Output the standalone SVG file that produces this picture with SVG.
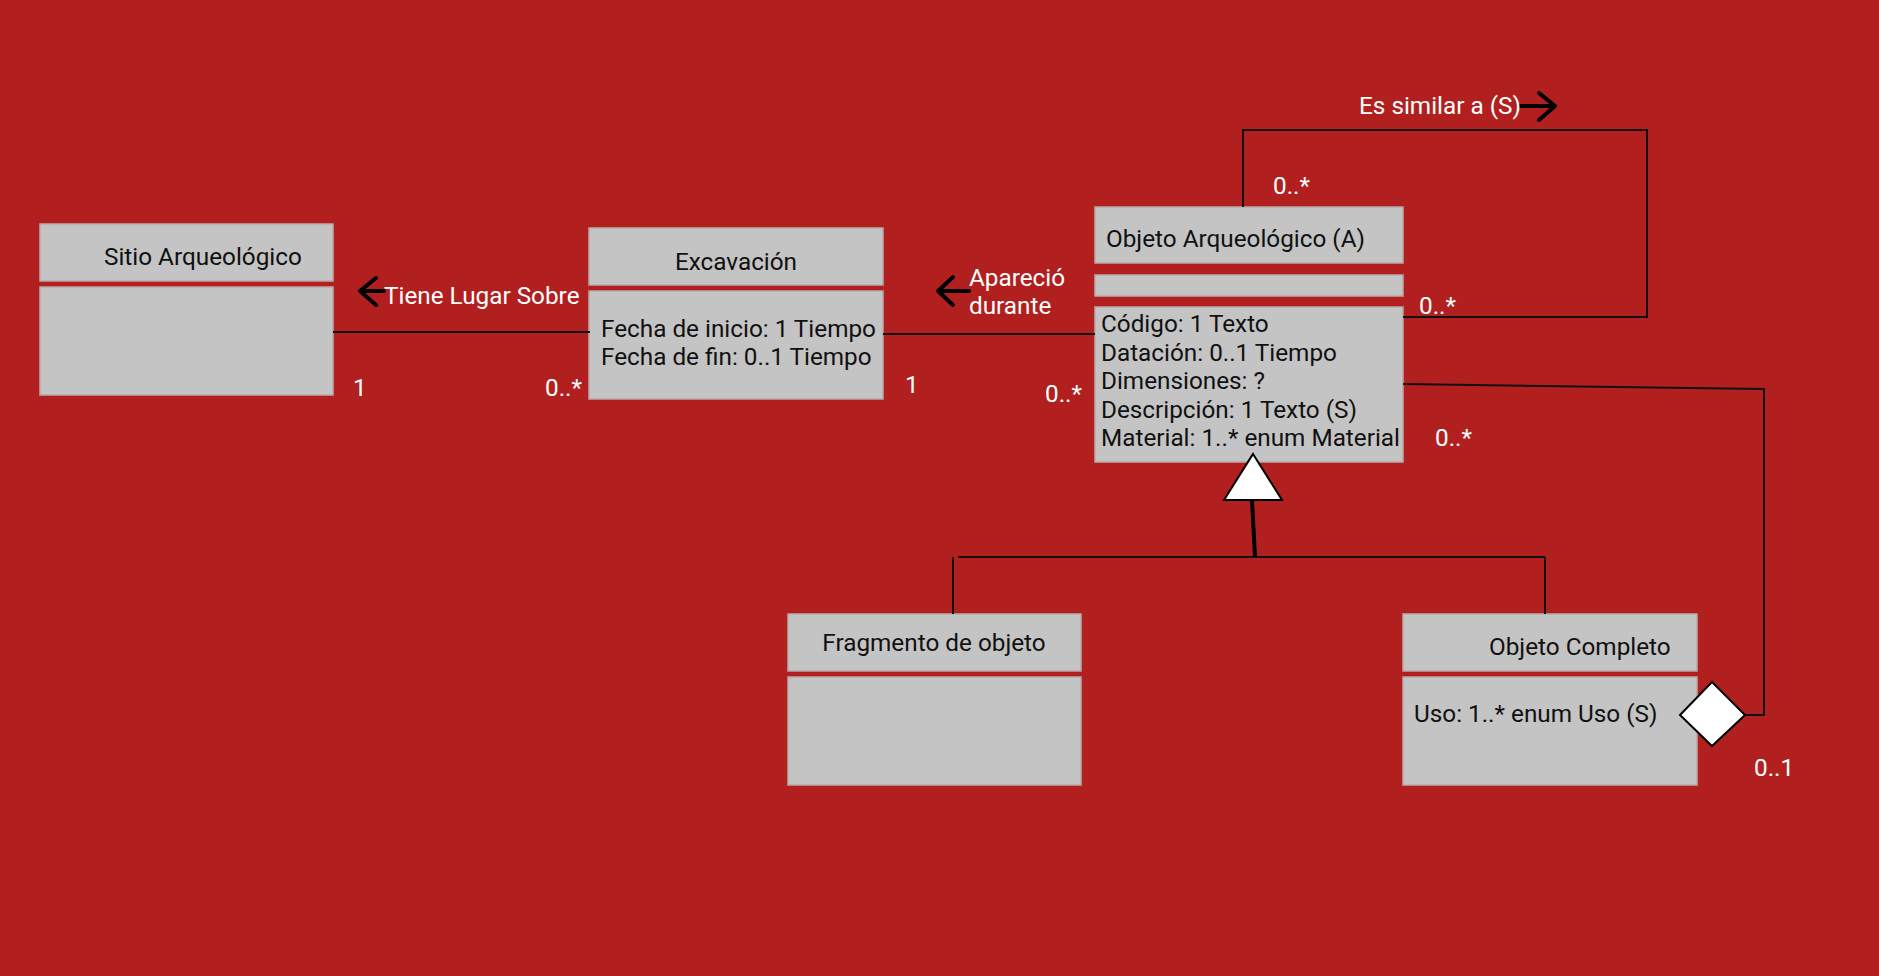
<svg xmlns="http://www.w3.org/2000/svg" width="1879" height="976" viewBox="0 0 1879 976">
<style>
.bg{fill:#b21f1f}
.box{fill:#c4c4c4;stroke:#b9a9a9;stroke-width:1.5}
.t{font-family:Roboto,"Liberation Sans",sans-serif;font-size:24.3px;fill:#111}
.w{font-family:Roboto,"Liberation Sans",sans-serif;font-size:24.3px;fill:#ffffff}
.ln{fill:none;stroke:#111;stroke-width:2}
.arr{fill:none;stroke:#000;stroke-width:4;stroke-linecap:round;stroke-linejoin:round}
.shape{fill:#ffffff;stroke:#000;stroke-width:2}
</style>
<rect class="bg" x="0" y="0" width="1879" height="976"/>

<g id="sitio">
  <rect class="box" x="40" y="224" width="293" height="57"/>
  <rect class="box" x="40" y="287" width="293" height="108"/>
  <text class="t" x="104" y="265">Sitio Arqueológico</text>
</g>

<g id="excavacion">
  <rect class="box" x="589" y="228" width="294" height="57"/>
  <rect class="box" x="589" y="291" width="294" height="108"/>
  <text class="t" x="736" y="270" text-anchor="middle">Excavación</text>
  <text class="t" x="601" y="337">Fecha de inicio: 1 Tiempo</text>
  <text class="t" x="601" y="365">Fecha de fin: 0..1 Tiempo</text>
</g>

<g id="objeto">
  <rect class="box" x="1095" y="207" width="308" height="56"/>
  <rect class="box" x="1095" y="275" width="308" height="21"/>
  <rect class="box" x="1095" y="307" width="308" height="155"/>
  <text class="t" x="1106" y="247">Objeto Arqueológico (A)</text>
  <text class="t" x="1101" y="332">Código: 1 Texto</text>
  <text class="t" x="1101" y="361">Datación: 0..1 Tiempo</text>
  <text class="t" x="1101" y="389">Dimensiones: ?</text>
  <text class="t" x="1101" y="418">Descripción: 1 Texto (S)</text>
  <text class="t" x="1101" y="446">Material: 1..* enum Material</text>
</g>

<g id="fragmento">
  <rect class="box" x="788" y="614" width="293" height="57"/>
  <rect class="box" x="788" y="677" width="293" height="108"/>
  <text class="t" x="934" y="651" text-anchor="middle">Fragmento de objeto</text>
</g>

<g id="completo">
  <rect class="box" x="1403" y="614" width="294" height="57"/>
  <rect class="box" x="1403" y="677" width="294" height="108"/>
  <text class="t" x="1489" y="655">Objeto Completo</text>
  <text class="t" x="1414" y="722">Uso: 1..* enum Uso (S)</text>
</g>

<g id="connectors">
  <line class="ln" x1="333" y1="332" x2="590" y2="332"/>
  <line class="ln" x1="883" y1="334" x2="1095" y2="334"/>
  <polyline class="ln" points="1243,207 1243,130 1647,130 1647,317 1403,317"/>
  <polyline class="ln" points="1403,384 1764,389 1764,715 1745,715"/>
  <line class="ln" x1="958" y1="557" x2="1545" y2="557"/>
  <line class="ln" x1="1545" y1="557" x2="1545" y2="614"/>
  <line class="ln" x1="953" y1="557" x2="953" y2="614"/>
  <line x1="1252" y1="500" x2="1255" y2="557" stroke="#000" stroke-width="4"/>
  <polygon class="shape" points="1253,454 1282,500 1224,500"/>
  <polygon class="shape" points="1680,715 1712,682 1745,715 1712,746"/>
  <path class="arr" d="M376,278 L360,291 L376,305 M360,291 L384,291"/>
  <path class="arr" d="M953,277 L938,291 L953,305 M938,291 L969,291"/>
  <path class="arr" d="M1539,93 L1555,106 L1539,120 M1520,106 L1555,106"/>
  <text class="w" x="384" y="304">Tiene Lugar Sobre</text>
  <text class="w" x="353" y="396">1</text>
  <text class="w" x="545" y="396">0..*</text>
  <text class="w" x="969" y="286">Apareció</text>
  <text class="w" x="969" y="314">durante</text>
  <text class="w" x="905" y="393">1</text>
  <text class="w" x="1045" y="402">0..*</text>
  <text class="w" x="1359" y="114">Es similar a (S)</text>
  <text class="w" x="1273" y="194">0..*</text>
  <text class="w" x="1419" y="314">0..*</text>
  <text class="w" x="1435" y="446">0..*</text>
  <text class="w" x="1754" y="776">0..1</text>
</g>
</svg>
